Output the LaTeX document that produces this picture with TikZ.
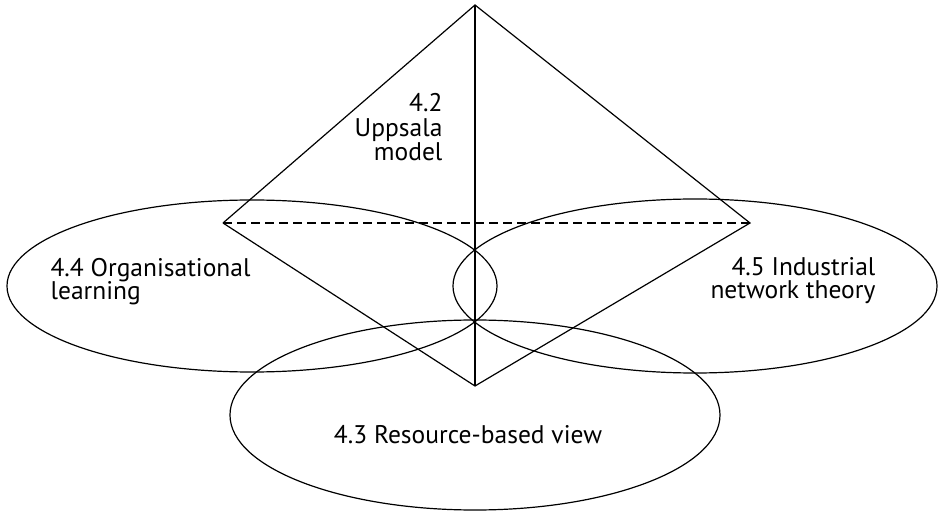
\documentclass[tikz,border=0pt]{standalone}
\usepackage{fontspec}
\setmainfont{PT Sans}
\usetikzlibrary{shapes.geometric}
\begin{document}
\begin{tikzpicture}[x=1bp,y=-1bp,
  line width=1.2bp,
  oval/.style={draw, ellipse, inner sep=0pt},
  lbl/.style={inner sep=0pt, font=\fontsize{25.5bp}{24bp}\selectfont},
  hidden/.style={dashed, dash pattern=on 9bp off 5bp}]
\useasboundingbox (0,0) rectangle (939,512);

% three overlapping theory fields
\node[oval, minimum width=490bp, minimum height=172bp] (learn) at (252,286) {};
\node[oval, minimum width=484bp, minimum height=174bp] (network) at (695,286) {};
\node[oval, minimum width=490bp, minimum height=190bp] (resource) at (475,415) {};

% double pyramid of the Uppsala model
\coordinate (apex) at (475,5);
\coordinate (west) at (223,223);
\coordinate (east) at (750,223);
\coordinate (foot) at (475,386);
\draw (west) -- (apex) -- (east) -- (foot) -- (west);
\draw (apex) -- (foot);
\draw[hidden] (west) -- (east);

% labels
\node[lbl, anchor=base east] (u1) at (443,112) {4.2};
\node[lbl, anchor=base east] (u2) at (443,137) {Uppsala};
\node[lbl, anchor=base east] (u3) at (443,161) {model};
\node[lbl, anchor=base west] (o1) at (50,277) {4.4 Organisational};
\node[lbl, anchor=base west] (o2) at (50,300) {learning};
\node[lbl, anchor=base east] (n1) at (876,276) {4.5 Industrial};
\node[lbl, anchor=base east] (n2) at (876,299) {network theory};
\node[lbl, anchor=base] (r1) at (468,443) {4.3 Resource-based view};
\end{tikzpicture}
\end{document}
